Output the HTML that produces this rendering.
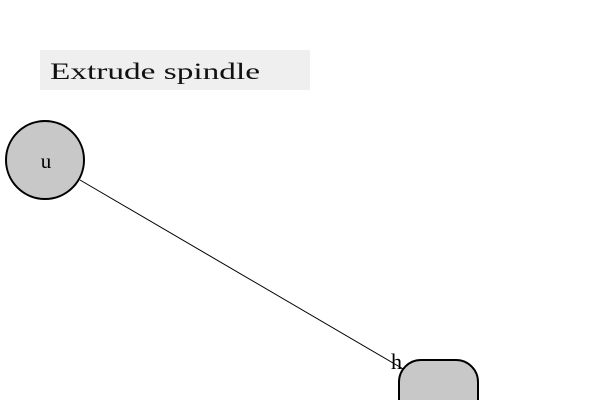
<!DOCTYPE html>
<html><head><meta charset="utf-8"><style>
html,body{margin:0;padding:0;background:#fff;width:600px;height:400px;overflow:hidden}
svg{display:block}
text{font-family:"Liberation Serif",serif}
</style></head><body>
<svg width="600" height="400" viewBox="0 0 600 400">
<defs><clipPath id="c"><rect x="0" y="0" width="600" height="400"/></clipPath></defs>
<g clip-path="url(#c)">
<rect x="40" y="50" width="270" height="40" fill="#efefef"/>
<text x="50" y="79" font-size="23" fill="#111" textLength="210" lengthAdjust="spacingAndGlyphs">Extrude spindle</text>
<line x1="80" y1="180" x2="405" y2="370" stroke="#000" stroke-width="1"/>
<circle cx="45" cy="160" r="39" fill="#c8c8c8" stroke="#000" stroke-width="2"/>
<text x="46" y="168" font-size="21" text-anchor="middle">u</text>
<path d="M399 400 V382 A22 22 0 0 1 421 360 H456 A22 22 0 0 1 478 382 V400" fill="#c8c8c8" stroke="#000" stroke-width="2"/>
<text x="391" y="369" font-size="22">h</text>
</g>
</svg>
</body></html>
